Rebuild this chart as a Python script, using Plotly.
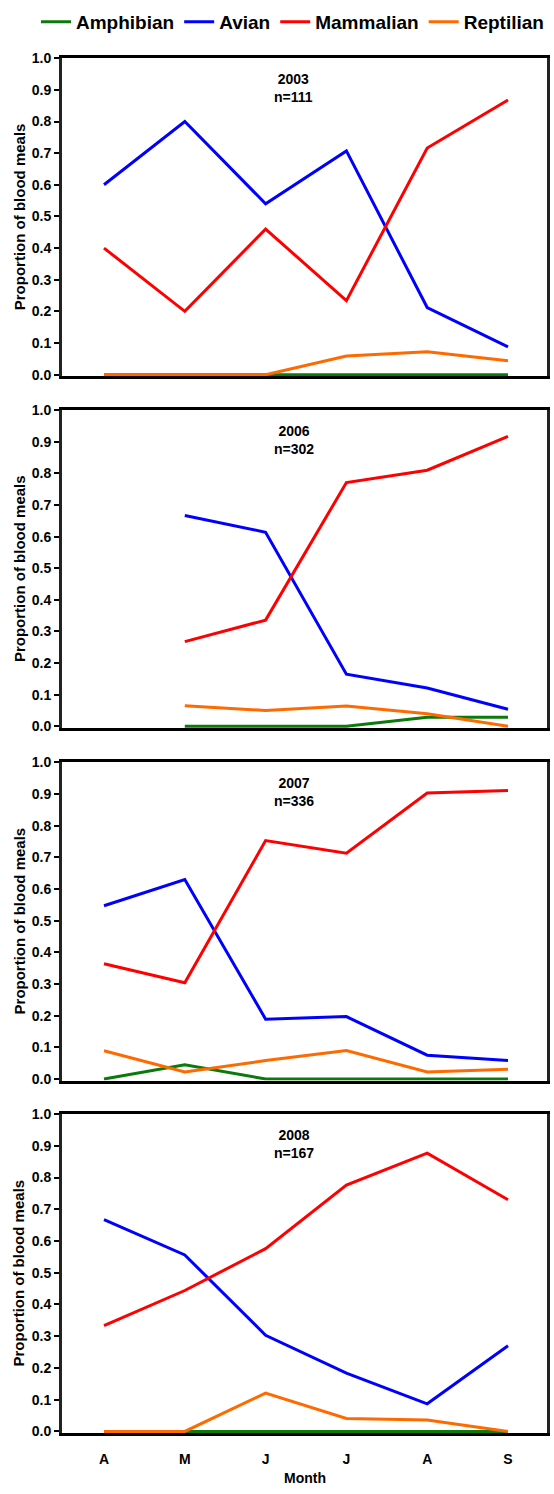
import plotly.graph_objects as go

# Month labels (April to September) and survey years
months = ["A", "M", "J", "J", "A", "S"]
years = ["2003", "2006", "2007", "2008"]
sample_sizes = ["111", "302", "336", "167"]

# Proportion of blood meals by host class, one list per year
amphibian_2003 = [0.0, 0.0, 0.0, 0.0, 0.0, 0.0]
avian_2003 = [0.600, 0.800, 0.540, 0.707, 0.212, 0.088]
mammalian_2003 = [0.400, 0.200, 0.460, 0.234, 0.716, 0.868]
reptilian_2003 = [0.0, 0.0, 0.0, 0.059, 0.072, 0.044]

amphibian_2006 = [None, 0.0, 0.0, 0.0, 0.029, 0.029]
avian_2006 = [None, 0.667, 0.614, 0.165, 0.121, 0.054]
mammalian_2006 = [None, 0.268, 0.336, 0.771, 0.810, 0.917]
reptilian_2006 = [None, 0.065, 0.050, 0.064, 0.040, 0.0]

amphibian_2007 = [0.0, 0.045, 0.0, 0.0, 0.0, 0.0]
avian_2007 = [0.547, 0.630, 0.189, 0.197, 0.075, 0.058]
mammalian_2007 = [0.364, 0.304, 0.753, 0.713, 0.903, 0.911]
reptilian_2007 = [0.089, 0.022, 0.058, 0.090, 0.022, 0.031]

amphibian_2008 = [0.0, 0.0, 0.0, 0.0, 0.0, 0.0]
avian_2008 = [0.667, 0.556, 0.303, 0.184, 0.087, 0.270]
mammalian_2008 = [0.333, 0.444, 0.576, 0.776, 0.877, 0.730]
reptilian_2008 = [0.0, 0.0, 0.121, 0.041, 0.036, 0.0]

series_names = ["Amphibian", "Avian", "Mammalian", "Reptilian"]
series_colors = ["#0a7a0a", "#0000ff", "#ff0000", "#ff6a00"]
panels = [
    [amphibian_2003, avian_2003, mammalian_2003, reptilian_2003],
    [amphibian_2006, avian_2006, mammalian_2006, reptilian_2006],
    [amphibian_2007, avian_2007, mammalian_2007, reptilian_2007],
    [amphibian_2008, avian_2008, mammalian_2008, reptilian_2008],
]

W, H = 554, 1494
FONT = "Liberation Sans, Arial, sans-serif"

# Pixel frames of each panel: (left, right, top, bottom)
frames = [
    (62, 547, 50.7, 371.7),
    (62, 547, 406.0, 726.7),
    (62, 547, 761.5, 1082.7),
    (62, 547, 1116.5, 1438.5),
]
first_x, step_x = 104.0, 80.8

fig = go.Figure()
x_idx = list(range(len(months)))

for p, series in enumerate(panels):
    ax = "" if p == 0 else str(p + 1)
    for name, color, vals in zip(series_names, series_colors, series):
        fig.add_trace(go.Scatter(
            x=x_idx, y=vals, mode="lines", name=name,
            line=dict(color=color, width=3),
            xaxis="x" + ax, yaxis="y" + ax,
            showlegend=(p == 0), legendgroup=name,
            hoverinfo="skip",
        ))

    left, right, top, bottom = frames[p]
    xr = [-(first_x - left) / step_x, 5 + (right - (first_x + 5 * step_x)) / step_x]
    fig.update_layout({
        "xaxis" + ax: dict(
            domain=[left / W, right / W], range=xr, anchor="y" + ax,
            tickvals=x_idx, ticktext=months, showticklabels=(p == 3),
            ticks="", showgrid=False, zeroline=False,
            showline=True, linecolor="black", linewidth=3, mirror=True,
            layer="below traces", ticklabelstandoff=11,
            tickfont=dict(family=FONT, size=14, color="black", weight="bold"),
        ),
        "yaxis" + ax: dict(
            domain=[1 - bottom / H, 1 - top / H], range=[-0.005, 1.0],
            anchor="x" + ax, tickvals=[i / 10 for i in range(11)],
            tickformat=".1f", ticks="outside", ticklen=5, tickwidth=2,
            tickcolor="black", showgrid=False, zeroline=False,
            showline=True, linecolor="#222222", linewidth=3, mirror=True,
            layer="below traces",
            tickfont=dict(family=FONT, size=14, color="black", weight="bold"),
        ),
    })

    fig.add_annotation(
        x=2.35, y=0.906, xref="x" + ax, yref="y" + ax,
        xanchor="center", yanchor="middle",
        text=f"{years[p]}<br>n={sample_sizes[p]}", showarrow=False,
        font=dict(family=FONT, size=14, color="black", weight="bold"),
        align="center",
    )
    fig.add_annotation(
        x=19 / W, y=1 - (top + bottom) / 2 / H, xref="paper", yref="paper",
        xanchor="center", yanchor="middle",
        text="Proportion of blood meals", textangle=-90, showarrow=False,
        font=dict(family=FONT, size=15, color="black", weight="bold"),
    )

fig.add_annotation(
    x=(62 + 547) / 2 / W, y=1 - 1484 / H, xref="paper", yref="paper",
    xanchor="center", yanchor="middle",
    text="Month", showarrow=False,
    font=dict(family=FONT, size=14, color="black", weight="bold"),
)

fig.update_layout(
    width=W, height=H,
    margin=dict(l=0, r=0, t=0, b=0),
    paper_bgcolor="white", plot_bgcolor="white",
    legend=dict(
        orientation="h", x=36 / W, xanchor="left",
        y=1 - 14 / H, yanchor="middle",
        font=dict(family=FONT, size=19, color="black", weight="bold"),
        itemwidth=30, tracegroupgap=0, bgcolor="rgba(0,0,0,0)",
    ),
)

fig.write_html("out.html")
